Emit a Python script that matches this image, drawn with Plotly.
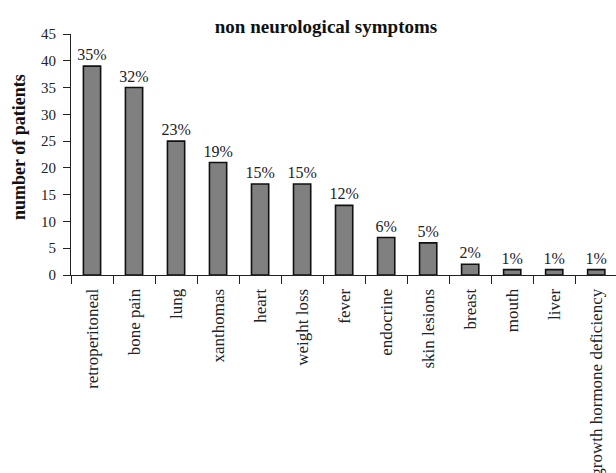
import plotly.graph_objects as go

# Non-neurological symptoms: patient counts and share of the cohort
symptoms = ["retroperitoneal", "bone pain", "lung", "xanthomas", "heart",
            "weight loss", "fever", "endocrine", "skin lesions", "breast",
            "mouth", "liver", "growth hormone deficiency"]
patients = [39, 35, 25, 21, 17, 17, 13, 7, 6, 2, 1, 1, 1]
share_labels = ["35%", "32%", "23%", "19%", "15%", "15%", "12%",
                "6%", "5%", "2%", "1%", "1%", "1%"]
y_ticks = [0, 5, 10, 15, 20, 25, 30, 35, 40, 45]

SERIF = "Liberation Serif, Times New Roman, serif"
INK = "#222222"

fig = go.Figure(
    go.Bar(
        x=symptoms,
        y=patients,
        text=share_labels,
        textposition="outside",
        constraintext="none",
        textfont=dict(family=SERIF, size=16, color=INK),
        outsidetextfont=dict(family=SERIF, size=16, color=INK),
        cliponaxis=False,
        marker=dict(color="#808080", line=dict(color="#111111", width=1.6)),
        width=0.41,
    )
)

fig.update_layout(
    width=616,
    height=473,
    margin=dict(l=71, r=0, t=34, b=198, autoexpand=False),
    paper_bgcolor="white",
    plot_bgcolor="white",
    showlegend=False,
    font=dict(family=SERIF, color=INK),
    title=dict(
        text="<b>non neurological symptoms</b>",
        x=326 / 616, xref="container", xanchor="center",
        y=1 - 26 / 473, yref="container", yanchor="middle",
        font=dict(family=SERIF, size=19, color="#111111"),
    ),
    annotations=[
        dict(
            text="<b>number of patients</b>",
            textangle=-90,
            xref="paper", yref="paper",
            x=(19 - 71) / 545, y=(275 - 147) / 241,
            xanchor="center", yanchor="middle",
            showarrow=False,
            font=dict(family=SERIF, size=18, color="#111111"),
        )
    ],
)

fig.update_xaxes(
    type="category",
    range=[-0.5, 12.47],
    tickson="boundaries",
    ticks="outside",
    ticklen=8,
    tickwidth=1,
    tickcolor=INK,
    showline=True,
    linecolor=INK,
    linewidth=1,
    showgrid=False,
    tickangle=-90,
    tickfont=dict(family=SERIF, size=17, color=INK),
    ticklabelstandoff=6,
    automargin=False,
)

fig.update_yaxes(
    range=[0, 45],
    tickvals=y_ticks,
    ticks="outside",
    ticklen=7,
    tickwidth=1,
    tickcolor=INK,
    showline=True,
    linecolor=INK,
    linewidth=1,
    showgrid=False,
    zeroline=False,
    tickfont=dict(family=SERIF, size=15, color=INK),
    ticklabelstandoff=4,
    automargin=False,
)

fig.write_html("out.html")
